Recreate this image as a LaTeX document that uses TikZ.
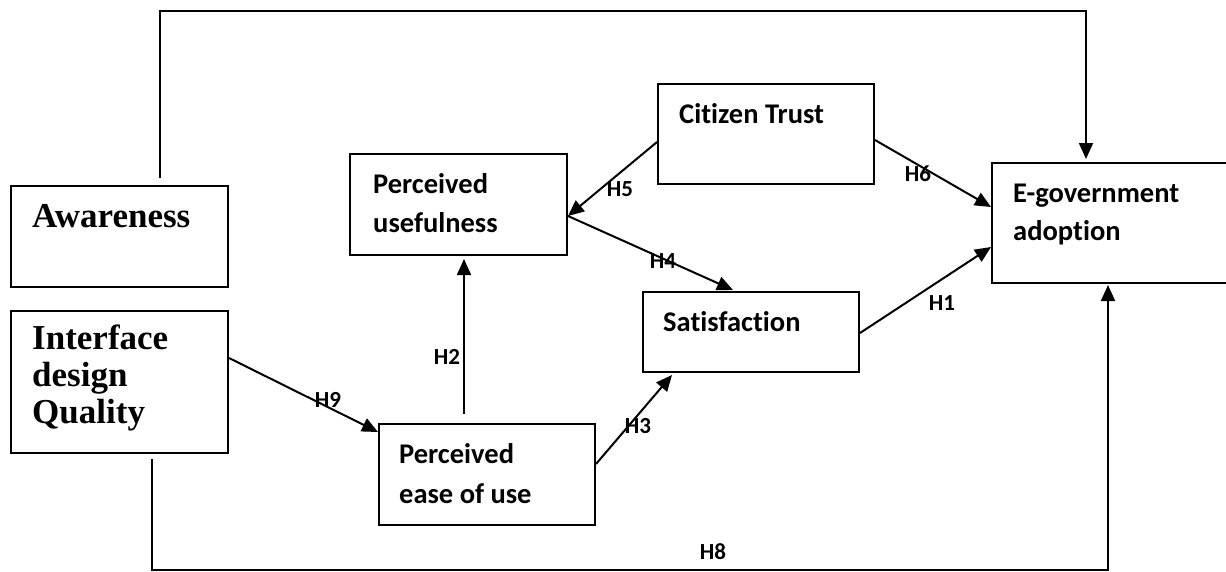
\documentclass[tikz,border=0pt]{standalone}
\usepackage{fontspec}
\setmainfont[Ligatures=NoCommon]{Carlito}
\newfontfamily\boxserif{Liberation Serif}
\usetikzlibrary{arrows.meta,calc}

\begin{document}
\begin{tikzpicture}[x=1pt,y=-1pt,
  box/.style={draw,line width=2pt,rectangle,inner sep=0pt,anchor=north west},
  sanslabel/.style={anchor=base west,inner sep=0pt,font=\bfseries\fontsize{28.5}{38}\selectfont,align=left},
  seriflabel/.style={anchor=base west,inner sep=0pt,font=\boxserif\bfseries\fontsize{35}{37}\selectfont,align=left},
  hyp/.style={inner sep=0pt,font=\bfseries\fontsize{23}{26}\selectfont},
  link/.style={line width=2pt,-{Triangle[length=16pt,width=14pt]}},
  route/.style={line width=1.5pt}]

\useasboundingbox (0,0) rectangle (1226,571);

% construct boxes
\node[box,minimum width=217pt,minimum height=101pt] (aw)   at (10,185)  {};
\node[box,minimum width=217pt,minimum height=142pt] (idq)  at (10,310)  {};
\node[box,minimum width=217pt,minimum height=101pt] (pu)   at (349,153) {};
\node[box,minimum width=216pt,minimum height=100pt] (ct)   at (657,83)  {};
\node[box,minimum width=216pt,minimum height=80pt]  (sat)  at (642,291) {};
\node[box,minimum width=216pt,minimum height=101pt] (peou) at (378,423) {};
\node[box,minimum width=245pt,minimum height=120pt] (eg)   at (991,162) {};

% box texts
\node[seriflabel] (awt)   at (32,227)   {Awareness};
\node[seriflabel] (idqt1) at (32,349)   {Interface};
\node[seriflabel] (idqt2) at (32,386)   {design};
\node[seriflabel] (idqt3) at (32,423)   {Quality};
\node[sanslabel]  (put1)  at (373,193)  {Perceived};
\node[sanslabel]  (put2)  at (373,232)  {usefulness};
\node[sanslabel]  (ctt)   at (679,123)  {Citizen Trust};
\node[sanslabel]  (satt)  at (663,331)  {Satisfaction};
\node[sanslabel]  (egt1)  at (1013,202) {E-government};
\node[sanslabel]  (egt2)  at (1013,240) {adoption};
\node[sanslabel]  (peout1) at (399,463) {Perceived};
\node[sanslabel]  (peout2) at (399,503) {ease of use};

% hypothesised paths
\draw[link] ($(idq.north east)+(0,48)$) -- ($(peou.north west)+(0,9)$);
\draw[link] ($(peou.north west)+(86,-9)$) -- ($(pu.south west)+(115,3)$);
\draw[link] ($(peou.north east)+(0,41)$) -- ($(sat.south west)+(30,2)$);
\draw[link] ($(pu.north east)+(0,63)$) -- ($(sat.north west)+(91,-1)$);
\draw[link] ($(ct.north west)+(0,59)$) -- ($(pu.north east)+(0,63)$);
\draw[link] ($(ct.north east)+(0,57)$) -- ($(eg.north west)+(0,45)$);
\draw[link] ($(sat.north east)+(0,42)$) -- ($(eg.north west)+(0,85)$);

% awareness route over the top
\coordinate (awstart) at ($(aw.north west)+(150,-7)$);
\coordinate (egtop)   at ($(eg.north west)+(95,-3)$);
\draw[route] (awstart) -- (awstart |- 0,11) -- (egtop |- 0,11);
\draw[link] (egtop |- 0,10) -- (egtop);

% interface design route along the bottom (H8)
\coordinate (idqstart) at ($(idq.south west)+(142,5)$);
\coordinate (egbottom) at ($(eg.south west)+(117,1)$);
\draw[route] (idqstart) -- (idqstart |- 0,570) -- (egbottom |- 0,570);
\draw[link] (egbottom |- 0,570.7) -- (egbottom);

% hypothesis labels
\node[hyp] (h9) at (328,400) {H9};
\node[hyp] (h2) at (447,357) {H2};
\node[hyp] (h5) at (620,189) {H5};
\node[hyp] (h4) at (663,261) {H4};
\node[hyp] (h3) at (638,426) {H3};
\node[hyp] (h6) at (918,174) {H6};
\node[hyp] (h1) at (942,303) {H1};
\node[hyp] (h8) at (713,552) {H8};
\end{tikzpicture}
\end{document}
